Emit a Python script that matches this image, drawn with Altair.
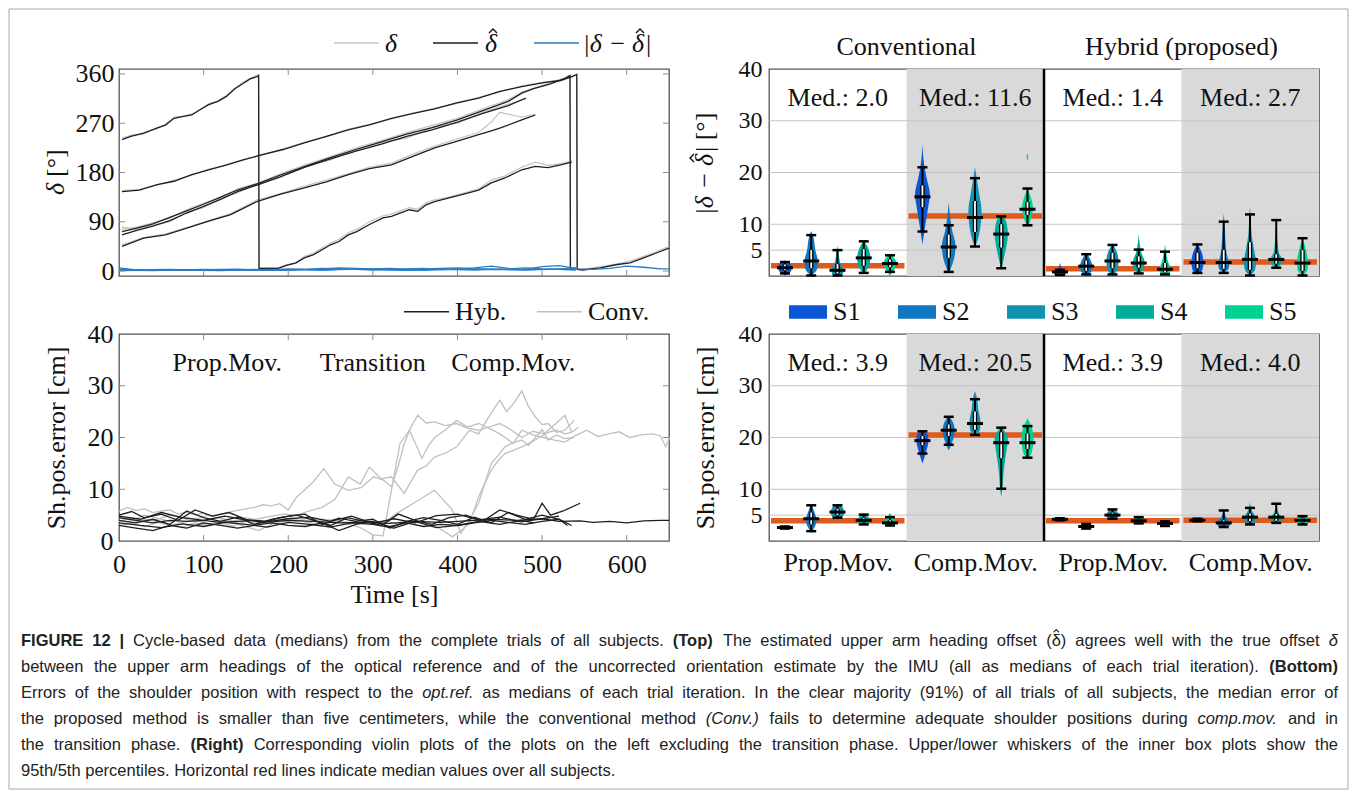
import json
import altair as alt
import pandas as pd

SERIF = "Liberation Serif, Times New Roman, serif"
SANS = "Liberation Sans, Arial, Helvetica, sans-serif"
FS = 26
W, H = 550, 207

# ---------------- top left: heading offset per trial ----------------
kinds = ["δ", "δ̂", "|δ − δ̂|"]
kind_colors = ["#c6c6c6", "#1e1e1e", "#2a7cc4"]

tA = [3.6, 14, 29, 45, 55, 65, 75, 86, 96, 106, 117, 127, 137, 147, 155, 163, 165, 165.5, 168, 188, 199, 209, 219, 230, 240, 250, 260, 271, 281, 296, 312, 322, 332, 343, 353, 363, 373, 389, 404, 425, 440, 456, 476, 492, 507, 522, 535]
hatA = [240, 246, 252, 261, 267, 279, 282, 285, 295, 304, 310, 319, 333, 343, 351, 355, 357, 4, 5, 5, 11, 15, 24, 30, 39, 48, 54, 66, 72, 85, 97, 100, 106, 112, 109, 121, 127, 133, 139, 148, 161, 170, 185, 191, 189, 194, 199]
trueA = [243, 248, 250, 262, 266, 281, 283, 287, 294, 306, 311, 321, 334, 345, 352, 358, 359, 5, 6, 6, 12, 14, 27, 33, 42, 51, 58, 70, 76, 90, 101, 104, 110, 116, 113, 125, 130, 135, 141, 150, 166, 174, 190, 199, 193, 196, 201]

tC = [3.6, 24, 45, 65, 86, 106, 127, 147, 168, 194, 219, 245, 271, 296, 322, 348, 373, 399, 425, 450, 476, 502, 522, 535, 541, 541.5, 548, 569, 589, 604, 620, 635, 650]
hatC = [145, 148, 158, 164, 176, 185, 194, 203, 212, 222, 234, 246, 258, 267, 279, 288, 296, 307, 316, 328, 337, 344, 348, 355, 359, 3, 2, 6, 12, 15, 24, 33, 42]
trueC = [147, 149, 157, 166, 175, 186, 193, 204, 211, 223, 235, 245, 259, 268, 278, 289, 297, 306, 317, 327, 338, 345, 349, 354, 358, 3, 3, 8, 13, 18, 27, 35, 45]

tD = [3.6, 20, 40, 60, 80, 100, 120, 140, 165, 190, 220, 250, 280, 310, 340, 370, 400, 430, 460, 476, 490, 510, 527, 533, 533.5, 537]
hatD = [72, 78, 86, 98, 110, 122, 135, 148, 160, 175, 191, 207, 222, 236, 250, 262, 276, 293, 310, 325, 333, 342, 352, 357, 4, 3]
trueD = [76, 80, 88, 96, 112, 124, 134, 150, 161, 177, 194, 209, 225, 238, 253, 266, 279, 296, 313, 327, 334, 344, 353, 358, 5, 3]

tE = [3.6, 20, 40, 60, 80, 100, 120, 140, 165, 190, 220, 250, 280, 310, 340, 370, 400, 430, 460, 481]
hatE = [66, 74, 82, 92, 106, 118, 131, 145, 158, 172, 190, 205, 219, 232, 246, 258, 272, 288, 302, 316]
trueE = [80, 76, 84, 90, 108, 116, 133, 143, 160, 170, 192, 203, 222, 235, 243, 262, 270, 290, 305, 314]

tF = [3.6, 29, 55, 81, 106, 132, 163, 190, 219, 245, 271, 296, 322, 348, 373, 399, 425, 440, 450, 476, 492]
hatF = [45, 60, 66, 79, 91, 103, 127, 140, 152, 163, 176, 187, 194, 210, 225, 237, 249, 256, 261, 276, 285]
trueF = [48, 61, 68, 80, 92, 105, 130, 141, 155, 166, 178, 190, 197, 214, 228, 241, 253, 272, 290, 281, 286]

errT1 = [0, 20, 40, 60, 80, 100, 120, 140, 160, 180, 200, 220, 240, 260, 280, 300, 320, 340, 360, 380, 400, 420, 440, 460, 480, 500, 520, 540]
err1 = [2, 1.5, 1, 2, 2.5, 1.5, 1, 2, 3, 2, 1.5, 2.5, 2, 3, 4, 3, 2, 1.5, 2, 3, 2.5, 2, 3, 2.5, 2, 3, 4, 6]
err2 = [6, 2, 2, 1.5, 2, 3, 2.5, 2, 1.5, 2, 4, 3, 5, 4, 3, 2, 3, 4, 5, 3, 4, 6, 9, 5, 3, 8, 10, 5]
err3 = [3, 2, 2.5, 3, 2, 2, 3, 3.5, 2, 3, 2.5, 3, 4, 6, 5, 4, 5, 3, 4, 5, 6, 4, 3, 4, 6, 4, 3, 2]
errT4 = [0, 30, 60, 90, 120, 150, 180, 210, 240, 270, 300, 330, 360, 390, 420, 450, 480, 510, 540, 560, 580, 600, 620, 640, 650]
err4 = [1, 1.5, 2, 1.5, 2, 2.5, 2, 3, 2, 3, 4, 3, 2, 3, 4, 3, 2.5, 3, 4, 3, 5, 9, 7, 4, 4]

# ---------------- bottom left: shoulder position error ----------------
methods = ["Hyb.", "Conv."]
method_colors = ["#1e1e1e", "#c0c0c0"]

g1t = [0, 10, 20, 30, 40, 50, 60, 70, 80, 90, 100, 110, 120, 130, 140, 150, 160, 170, 180, 190, 200, 210, 219, 230, 242, 255, 271, 286, 301, 312, 322, 330, 337, 345, 353, 363, 373, 386, 399, 412, 425, 437, 450, 463, 476, 489, 502, 515, 527, 535, 543]
g1v = [5.8, 6.5, 5.9, 6.2, 5.5, 5.8, 6.0, 5.2, 5.6, 5.0, 5.4, 4.8, 5.2, 5.6, 5.9, 6.2, 6.5, 7.0, 6.8, 7.2, 6.0, 8.5, 9.8, 11.5, 14.0, 11.0, 9.8, 10.3, 12.4, 11.8, 10.5, 14.5, 18.8, 22.0, 24.3, 22.8, 23.0, 22.3, 22.7, 21.8, 21.4, 22.0, 22.7, 21.5, 20.0, 21.2, 20.7, 22.5, 24.3, 21.0, 22.0]
g2t = [0, 15, 30, 45, 60, 75, 90, 105, 120, 135, 150, 165, 180, 195, 210, 225, 240, 255, 270, 285, 300, 312, 322, 332, 343, 350, 358, 366, 373, 386, 399, 412, 425, 437, 450, 458, 466, 476, 489, 502, 515, 527, 540, 553, 566, 579, 591, 604, 617, 630, 640, 646, 651]
g2v = [4.0, 3.5, 4.2, 3.8, 3.0, 3.6, 4.1, 3.2, 3.9, 3.5, 2.8, 2.0, 3.2, 3.8, 4.1, 3.5, 3.0, 3.8, 3.3, 2.6, 1.2, 1.0, 9.8, 18.8, 21.4, 19.0, 16.0, 18.5, 20.0, 21.5, 23.3, 22.0, 22.7, 21.8, 20.7, 19.8, 18.8, 21.4, 20.5, 20.0, 19.5, 19.1, 20.4, 21.4, 20.2, 20.7, 21.1, 20.0, 20.5, 20.7, 20.3, 18.2, 20.0]
g3t = [0, 15, 30, 45, 60, 75, 90, 105, 120, 135, 150, 165, 180, 195, 210, 225, 240, 255, 271, 285, 296, 310, 322, 337, 353, 363, 373, 386, 399, 414, 425, 437, 450, 458, 466, 476, 484, 492, 500, 507, 517, 527, 538]
g3v = [3.0, 3.4, 2.8, 3.6, 3.2, 2.7, 3.5, 3.0, 3.4, 2.9, 3.8, 4.3, 4.8, 5.2, 5.0, 5.8, 6.5, 8.0, 12.4, 11.0, 14.3, 12.0, 12.4, 9.2, 13.7, 14.5, 16.2, 17.0, 18.2, 21.4, 20.7, 24.0, 27.2, 25.0, 26.5, 29.0, 26.0, 24.0, 22.5, 22.7, 21.0, 21.4, 23.3]
g4t = [0, 15, 30, 45, 60, 75, 90, 105, 120, 135, 150, 165, 180, 195, 210, 225, 240, 255, 270, 285, 300, 312, 325, 337, 348, 360, 373, 383, 394, 404, 414, 425, 432, 440, 448, 456, 466, 476, 484, 492, 500, 507, 517, 527, 538]
g4v = [4.5, 4.0, 5.0, 4.4, 3.8, 4.6, 4.2, 5.0, 4.3, 3.9, 4.5, 4.0, 3.6, 4.2, 3.8, 4.5, 3.9, 4.2, 3.6, 4.0, 3.8, 3.4, 5.0, 6.2, 7.3, 8.5, 9.8, 8.0, 6.0, 1.5, 4.0, 7.3, 11.0, 15.0, 16.5, 18.2, 19.0, 19.5, 18.5, 20.0, 21.5, 19.5, 20.5, 19.8, 20.0]
g5t = [0, 15, 30, 45, 60, 75, 90, 105, 120, 135, 150, 165, 180, 195, 210, 225, 240, 255, 270, 285, 300, 315, 330, 345, 360, 375, 385, 394, 404, 414, 425, 432, 440, 448, 456, 466, 476, 486, 497, 507, 517, 527, 535]
g5v = [3.8, 4.5, 3.9, 4.2, 5.0, 4.4, 3.7, 4.1, 4.6, 3.5, 4.0, 3.3, 3.8, 4.4, 4.0, 3.6, 4.2, 3.9, 3.4, 4.1, 3.6, 3.9, 3.3, 3.7, 3.5, 2.8, 1.8, 0.8, 2.0, 3.4, 8.5, 11.0, 13.7, 15.5, 16.9, 17.5, 18.2, 19.0, 20.0, 21.0, 21.4, 20.7, 21.0]

h1t = [0, 20, 40, 60, 80, 100, 120, 140, 160, 180, 200, 230, 260, 290, 320, 350, 380, 410, 440, 470, 500, 520, 545, 560, 580, 600, 620, 640, 650]
h1v = [4.5, 4.0, 3.5, 4.0, 3.8, 4.0, 3.6, 3.8, 4.0, 3.7, 4.0, 3.8, 3.5, 3.6, 3.4, 3.8, 3.6, 3.9, 4.2, 4.0, 4.3, 3.8, 3.9, 3.6, 3.8, 3.5, 3.9, 4.0, 4.0]
h2t = [0, 15, 30, 50, 70, 90, 110, 130, 150, 170, 190, 210, 230, 250, 270, 290, 310, 330, 350, 370, 390, 410, 430, 450, 470, 490, 500, 510, 525, 545]
h2v = [5.0, 5.7, 4.5, 5.2, 4.0, 6.0, 4.8, 5.5, 4.2, 3.5, 4.5, 5.0, 4.0, 3.0, 4.5, 3.8, 3.0, 5.2, 4.0, 3.2, 4.5, 5.0, 3.8, 6.0, 5.0, 4.2, 7.3, 5.0, 5.8, 7.3]
h3t = [0, 20, 40, 60, 80, 100, 120, 140, 160, 180, 200, 220, 240, 260, 280, 300, 320, 340, 360, 380, 400, 420, 440, 460, 480, 500, 520, 535]
h3v = [3.0, 2.5, 2.0, 3.0, 2.5, 3.5, 3.0, 2.5, 3.0, 3.5, 3.0, 2.8, 3.5, 2.0, 3.2, 3.8, 2.8, 3.5, 2.8, 3.2, 3.0, 3.5, 4.0, 3.6, 3.2, 3.8, 4.2, 3.0]
h4t = [0, 20, 40, 60, 80, 100, 120, 140, 160, 180, 200, 220, 240, 260, 280, 300, 320, 340, 360, 380, 400, 420, 440, 460, 480, 500, 520, 530]
h4v = [4.0, 3.5, 4.2, 3.2, 5.8, 4.5, 3.8, 4.6, 3.2, 4.2, 4.8, 5.2, 3.2, 4.4, 3.8, 4.2, 2.5, 3.8, 4.5, 4.0, 3.2, 4.6, 3.5, 5.5, 4.2, 5.0, 4.2, 3.0]
h5t = [0, 25, 50, 75, 100, 125, 150, 175, 200, 225, 250, 275, 300, 325, 350, 375, 400, 425, 450, 475, 490]
h5v = [3.5, 3.0, 2.6, 3.3, 2.8, 3.6, 3.2, 2.7, 3.6, 3.2, 2.7, 3.5, 3.2, 2.5, 3.8, 2.6, 3.0, 3.8, 3.2, 4.0, 3.5]
h6t = [0, 25, 50, 75, 100, 125, 150, 175, 200, 225, 250, 275, 300, 325, 350, 375, 400, 425, 450, 475, 500, 520]
h6v = [4.8, 4.2, 5.5, 4.5, 4.0, 4.8, 4.1, 3.7, 4.3, 4.6, 3.8, 4.8, 3.4, 4.3, 3.5, 4.9, 5.2, 4.1, 4.6, 3.7, 4.3, 4.8]

phase_names = ["Prop.Mov.", "Transition", "Comp.Mov."]
phase_t = [128, 300, 466]
phase_y = [34.4, 34.4, 34.4]

# ---------------- right: violins ----------------
subjects = ["S1", "S2", "S3", "S4", "S5"]
subj_colors = ["#0b56d2", "#0f76c2", "#0f93b0", "#00ac9c", "#00d293"]
section_labels = ["Prop.Mov.", "Comp.Mov.", "Prop.Mov.", "Comp.Mov."]
method_heads = ["Conventional", "Hybrid (proposed)"]

err_meds = [2.0, 11.6, 1.4, 2.7]
pos_meds = [3.9, 20.5, 3.9, 4.0]

# violin outlines: (value, half width) per section and subject
err_profiles = [
    [[(0.1, 0), (0.8, 0.20), (1.6, 0.25), (2.4, 0.19), (3.0, 0)],
     [(0.0, 0), (1.5, 0.22), (2.9, 0.24), (5.0, 0.15), (7.5, 0.08), (8.7, 0)],
     [(0.0, 0), (0.5, 0.20), (1.1, 0.22), (2.5, 0.10), (4.5, 0.04), (5.9, 0)],
     [(0.3, 0), (1.5, 0.15), (3.5, 0.24), (5.5, 0.15), (6.8, 0)],
     [(0.0, 0), (1.2, 0.15), (2.4, 0.24), (3.5, 0.15), (4.2, 0)]],
    [[(6.1, 0), (9.0, 0.08), (13.0, 0.20), (15.8, 0.27), (19.0, 0.15), (22.0, 0.05), (25.4, 0)],
     [(0.6, 0), (2.5, 0.15), (5.8, 0.25), (9.0, 0.12), (12.0, 0.04), (14.2, 0)],
     [(5.5, 0), (8.0, 0.15), (12.6, 0.24), (16.0, 0.15), (19.0, 0.06), (21.0, 0)],
     [(1.3, 0), (4.0, 0.12), (8.1, 0.24), (10.5, 0.18), (11.8, 0)],
     [(9.4, 0), (11.0, 0.12), (13.2, 0.20), (15.5, 0.10), (16.8, 0)]],
    [[(0.0, 0), (0.4, 0.22), (0.9, 0.20), (1.6, 0.06), (2.6, 0)],
     [(0.0, 0), (1.0, 0.20), (1.9, 0.22), (3.2, 0.15), (4.5, 0)],
     [(0.0, 0), (1.5, 0.20), (2.9, 0.22), (4.8, 0.15), (6.3, 0)],
     [(0.3, 0), (1.5, 0.18), (2.6, 0.22), (4.5, 0.10), (6.5, 0.03), (8.2, 0)],
     [(0.0, 0), (0.6, 0.18), (1.3, 0.20), (3.0, 0.10), (4.8, 0.04), (6.1, 0)]],
    [[(0.3, 0), (1.2, 0.18), (2.6, 0.22), (4.5, 0.16), (6.3, 0)],
     [(0.6, 0), (1.5, 0.18), (2.3, 0.20), (4.0, 0.12), (7.0, 0.06), (10.0, 0.03), (12.1, 0)],
     [(0.0, 0), (1.5, 0.20), (2.9, 0.22), (5.0, 0.15), (8.0, 0.06), (11.0, 0.03), (13.4, 0)],
     [(1.4, 0), (2.5, 0.20), (3.0, 0.22), (4.5, 0.10), (7.0, 0.04), (11.0, 0)],
     [(0.0, 0), (1.2, 0.18), (2.6, 0.20), (4.5, 0.15), (7.4, 0)]],
]
err_extra = [(1, 4, [(22.3, 0), (23.0, 0.03), (23.7, 0)])]
# inner box: (p5, q1, median, q3, p95)
err_stats = [
    [(0.5, 1.1, 1.6, 2.2, 2.7), (0.1, 1.5, 2.9, 5.0, 7.9), (0.1, 0.5, 1.1, 2.3, 5.0), (0.6, 2.0, 3.5, 5.2, 6.7), (0.8, 1.7, 2.4, 3.2, 4.0)],
    [(8.6, 13.3, 15.3, 17.5, 21.0), (0.8, 3.5, 5.6, 8.0, 9.8), (5.7, 8.5, 11.3, 14.5, 18.9), (1.5, 5.5, 8.1, 10.0, 11.5), (9.8, 11.8, 12.9, 14.3, 16.9)],
    [(0.2, 0.5, 0.8, 1.0, 1.2), (0.3, 1.0, 1.9, 3.0, 4.2), (0.3, 1.5, 2.9, 4.5, 6.0), (0.5, 1.6, 2.5, 3.8, 5.1), (0.3, 0.7, 1.3, 2.5, 4.7)],
    [(0.6, 1.5, 2.6, 4.5, 6.1), (0.6, 1.4, 2.6, 5.0, 10.5), (0.1, 1.2, 3.2, 6.5, 11.9), (1.6, 2.4, 3.2, 4.2, 10.8), (0.1, 1.0, 2.5, 5.0, 7.3)],
]

pos_profiles = [
    [[(2.3, 0), (2.6, 0.20), (3.0, 0)],
     [(1.6, 0), (3.0, 0.15), (4.0, 0.20), (5.5, 0.12), (7.2, 0)],
     [(4.1, 0), (5.0, 0.22), (5.6, 0.24), (6.4, 0.20), (7.2, 0)],
     [(3.0, 0), (3.6, 0.20), (4.0, 0.22), (4.6, 0.18), (5.3, 0)],
     [(2.7, 0), (3.3, 0.20), (3.7, 0.22), (4.5, 0.12), (5.4, 0)]],
    [[(15.0, 0), (17.0, 0.12), (19.5, 0.22), (20.5, 0.20), (21.2, 0)],
     [(17.5, 0), (19.0, 0.12), (21.4, 0.22), (23.0, 0.15), (24.2, 0)],
     [(20.3, 0), (21.5, 0.18), (23.0, 0.20), (25.5, 0.12), (27.5, 0.08), (29.0, 0)],
     [(8.5, 0), (10.0, 0.04), (13.0, 0.08), (16.0, 0.15), (19.8, 0.24), (22.1, 0)],
     [(15.9, 0), (17.0, 0.15), (19.8, 0.22), (22.0, 0.15), (23.7, 0)]],
    [[(3.9, 0), (4.2, 0.20), (4.5, 0)],
     [(2.3, 0), (2.8, 0.20), (3.4, 0)],
     [(4.0, 0), (4.6, 0.20), (5.0, 0.22), (5.6, 0.18), (6.3, 0)],
     [(3.2, 0), (3.6, 0.18), (3.9, 0.20), (4.3, 0.15), (4.8, 0)],
     [(2.8, 0), (3.4, 0.18), (3.9, 0)]],
    [[(3.7, 0), (4.0, 0.20), (4.5, 0)],
     [(2.5, 0), (3.0, 0.22), (3.5, 0.24), (4.5, 0.10), (5.9, 0)],
     [(3.0, 0), (3.6, 0.18), (4.5, 0.20), (6.0, 0.06), (7.5, 0)],
     [(3.4, 0), (3.8, 0.18), (4.3, 0.20), (5.5, 0.08), (7.2, 0)],
     [(3.0, 0), (3.5, 0.20), (4.0, 0.22), (4.5, 0.15), (5.0, 0)]],
]
pos_extra = []
pos_stats = [
    [(2.4, 2.5, 2.6, 2.7, 2.8), (1.9, 3.2, 4.3, 5.5, 6.9), (4.5, 5.0, 5.6, 6.2, 6.9), (3.2, 3.7, 4.0, 4.5, 5.1), (3.0, 3.3, 3.5, 4.0, 4.6)],
    [(16.9, 18.5, 19.4, 20.3, 21.2), (18.6, 20.3, 21.4, 22.5, 24.0), (20.5, 21.5, 22.7, 25.0, 27.4), (10.1, 16.0, 19.0, 21.0, 21.9), (16.1, 17.8, 19.0, 20.8, 22.2)],
    [(4.0, 4.1, 4.2, 4.3, 4.4), (2.4, 2.6, 2.8, 3.0, 3.3), (4.3, 4.7, 5.0, 5.5, 6.1), (3.4, 3.7, 3.9, 4.2, 4.6), (2.9, 3.2, 3.4, 3.6, 3.8)],
    [(3.8, 3.9, 4.0, 4.1, 4.3), (2.7, 3.2, 3.5, 4.0, 5.9), (3.2, 3.8, 4.6, 5.3, 6.4), (3.5, 3.9, 4.6, 5.2, 7.2), (3.2, 3.6, 4.0, 4.4, 4.8)],
]

caption_lines = [
    "FIGURE 12 | Cycle-based data (medians) from the complete trials of all subjects. (Top) The estimated upper arm heading offset (δ̂) agrees well with the true offset δ",
    "between the upper arm headings of the optical reference and of the uncorrected orientation estimate by the IMU (all as medians of each trial iteration). (Bottom)",
    "Errors of the shoulder position with respect to the opt.ref. as medians of each trial iteration. In the clear majority (91%) of all trials of all subjects, the median error of",
    "the proposed method is smaller than five centimeters, while the conventional method (Conv.) fails to determine adequate shoulder positions during comp.mov. and in",
    "the transition phase. (Right) Corresponding violin plots of the plots on the left excluding the transition phase. Upper/lower whiskers of the inner box plots show the",
    "95th/5th percentiles. Horizontal red lines indicate median values over all subjects.",
]
bold_words = {"FIGURE", "12", "|", "(Top)", "(Bottom)", "(Right)"}
italic_words = {"opt.ref.", "(Conv.)", "comp.mov.", "δ"}

# ====================================================================
TICK = "#8c8c8c"
RED = "#df5a1f"
CARET = "M-1,0.5L0,-0.5L1,0.5"      # the circumflex accent drawn over δ
ONE = pd.DataFrame({"o": [0]})


def ptext(x, y, s, **kw):
    """text placed in pixels relative to a panel's plot area"""
    return alt.Chart(ONE).mark_text(**kw).encode(x=alt.value(x), y=alt.value(y), text=alt.value(s))


def caret(x, y, size=64, angle=0, width=1.4, color="#111"):
    return alt.Chart(ONE).mark_point(shape=CARET, filled=False, size=size, angle=angle, strokeWidth=width,
                                     color=color, opacity=1).encode(x=alt.value(x), y=alt.value(y))


def inner_ticks(xvals, yvals, xs, ys, xax, yax):
    tx = alt.Chart(pd.DataFrame({"v": xvals}))
    ty = alt.Chart(pd.DataFrame({"v": yvals}))
    X = alt.X("v:Q", scale=xs, axis=xax)
    Y = alt.Y("v:Q", scale=ys, axis=yax)
    m = dict(color=TICK, strokeWidth=1)
    return [
        tx.mark_rule(**m).encode(x=X, y=alt.value(H), y2=alt.value(H - 6)),
        tx.mark_rule(**m).encode(x=X, y=alt.value(0), y2=alt.value(6)),
        ty.mark_rule(**m).encode(y=Y, x=alt.value(0), x2=alt.value(6)),
        ty.mark_rule(**m).encode(y=Y, x=alt.value(W), x2=alt.value(W - 6)),
    ]


# ---------- top left ----------
rows = []
trials = {"A": (tA, hatA, trueA), "C": (tC, hatC, trueC), "D": (tD, hatD, trueD),
          "E": (tE, hatE, trueE), "F": (tF, hatF, trueF)}
for name, (ts, hs, ds) in trials.items():
    for t, h, d in zip(ts, hs, ds):
        rows.append({"trial": name, "t": t, "kind": kinds[0], "v": d})
        rows.append({"trial": name, "t": t, "kind": kinds[1], "v": h})
for i, (ts, es) in enumerate([(errT1, err1), (errT1, err2), (errT1, err3), (errT4, err4)]):
    for t, e in zip(ts, es):
        rows.append({"trial": "e%d" % i, "t": t, "kind": kinds[2], "v": e})
df_tl = pd.DataFrame(rows)

xs_time = alt.Scale(domain=[0, 650], nice=False, zero=False)
ys_tl = alt.Scale(domain=[-9, 369], nice=False, zero=False)
yax_tl = alt.Axis(values=[0, 90, 180, 270, 360], title=None, labelPadding=5)
col_tl = alt.Color("kind:N", scale=alt.Scale(domain=kinds, range=kind_colors), legend=None)


def tl_layer(kind):
    return alt.Chart(df_tl[df_tl["kind"] == kind]).mark_line(strokeWidth=1.3).encode(
        x=alt.X("t:Q", scale=xs_time, axis=None),
        y=alt.Y("v:Q", scale=ys_tl, axis=yax_tl),
        color=col_tl, detail="trial:N")


# legend of the top-left panel (line sample + label; accent drawn over δ)
LEG_Y = -26
leg_x0 = [215, 314, 415]
tl_legend = []
for x0, c in zip(leg_x0, kind_colors):
    tl_legend.append(alt.Chart(ONE).mark_rule(color=c, strokeWidth=1.5).encode(
        x=alt.value(x0), x2=alt.value(x0 + 45), y=alt.value(LEG_Y)))
lt = dict(font=SERIF, fontSize=FS, fontStyle="italic", color="#111", baseline="alphabetic")
tl_legend += [
    ptext(272, LEG_Y + 9, "δ", align="center", **lt),
    ptext(372, LEG_Y + 9, "δ", align="center", **lt),
    caret(374, LEG_Y - 12),
    ptext(507, LEG_Y + 9, "|δ −", align="right", **lt),
    ptext(519, LEG_Y + 9, "δ", align="center", **lt),
    caret(521, LEG_Y - 12),
    ptext(527, LEG_Y + 9, "|", align="left", font=SERIF, fontSize=FS, color="#111", baseline="alphabetic"),
]
# rotated y title: δ [°]
rt = dict(font=SERIF, fontSize=FS, color="#111", baseline="alphabetic", angle=270)
tl_title = [
    ptext(-55, 114, "δ", align="right", fontStyle="italic", **rt),
    ptext(-55, 108, "[°]", align="left", **rt),
]

TL = alt.layer(tl_layer(kinds[0]), tl_layer(kinds[1]), tl_layer(kinds[2]),
               *inner_ticks([100, 200, 300, 400, 500, 600], [0, 90, 180, 270, 360], xs_time, ys_tl, None, yax_tl),
               *tl_legend, *tl_title).properties(width=W, height=H)

# ---------- bottom left ----------
rows = []
for i, (ts, vs) in enumerate([(g1t, g1v), (g2t, g2v), (g3t, g3v), (g4t, g4v), (g5t, g5v)]):
    for t, v in zip(ts, vs):
        rows.append({"run": "g%d" % i, "t": t, "method": methods[1], "v": v})
for i, (ts, vs) in enumerate([(h1t, h1v), (h2t, h2v), (h3t, h3v), (h4t, h4v), (h5t, h5v), (h6t, h6v)]):
    for t, v in zip(ts, vs):
        rows.append({"run": "h%d" % i, "t": t, "method": methods[0], "v": v})
df_bl = pd.DataFrame(rows)
ys_pos = alt.Scale(domain=[0, 40], nice=False, zero=False)
xax_bl = alt.Axis(values=[0, 100, 200, 300, 400, 500, 600], title="Time [s]", labelPadding=10,
                  titleY=53, titleBaseline="middle")
yax_bl = alt.Axis(values=[0, 10, 20, 30, 40], title="Sh.pos.error [cm]", titleX=-63,
                  titleBaseline="middle", labelPadding=6)
leg_bl = alt.Legend(orient="none", legendX=284, legendY=-46, direction="horizontal", title=None,
                    symbolType="stroke", symbolSize=2025, symbolStrokeWidth=1.5,
                    labelFont=SERIF, labelFontSize=FS, labelColor="#111",
                    labelOffset=5, columnPadding=27)
col_bl = alt.Color("method:N", scale=alt.Scale(domain=methods, range=method_colors), legend=leg_bl)


def bl_layer(method):
    return alt.Chart(df_bl[df_bl["method"] == method]).mark_line(strokeWidth=1.3).encode(
        x=alt.X("t:Q", scale=xs_time, axis=xax_bl),
        y=alt.Y("v:Q", scale=ys_pos, axis=yax_bl),
        color=col_bl, detail="run:N")


df_phase = pd.DataFrame({"t": phase_t, "y": phase_y, "name": phase_names})
phase_txt = alt.Chart(df_phase).mark_text(font=SERIF, fontSize=FS, color="#111").encode(
    x=alt.X("t:Q", scale=xs_time, axis=xax_bl), y=alt.Y("y:Q", scale=ys_pos, axis=yax_bl), text="name:N")

BL = alt.layer(bl_layer(methods[1]), bl_layer(methods[0]), phase_txt,
               *inner_ticks([100, 200, 300, 400, 500, 600], [10, 20, 30], xs_time, ys_pos, xax_bl, yax_bl)
               ).properties(width=W, height=H)


# ---------- right: violin panels ----------
def violin_panel(profiles, stats, extras, meds, yax, xlabels, legend, heads, extra_layers):
    centers = [[5 * s + 0.58 + 0.955 * k for k in range(5)] for s in range(4)]
    vrows, brows, crows = [], [], []
    for s in range(4):
        for k in range(5):
            c = centers[s][k]
            for (y, w) in profiles[s][k]:
                vrows.append({"vid": "%d-%d" % (s, k), "subj": subjects[k], "y": y, "xl": c - w, "xr": c + w})
            p5, q1, md, q3, p95 = stats[s][k]
            brows.append({"xc": c, "p5": p5, "q1": q1, "med": md, "q3": q3, "p95": p95})
            crows.append({"xc": c, "v": p5})
            crows.append({"xc": c, "v": p95})
    for (s, k, prof) in extras:
        c = centers[s][k]
        for (y, w) in prof:
            vrows.append({"vid": "%d-%d-x" % (s, k), "subj": subjects[k], "y": y, "xl": c - w, "xr": c + w})
    df_v, df_b, df_c = pd.DataFrame(vrows), pd.DataFrame(brows), pd.DataFrame(crows)
    df_sec = pd.DataFrame({"s0": [5 * s for s in range(4)], "s1": [5 * s + 5 for s in range(4)],
                           "med": meds, "xm": [5 * s + 2.5 for s in range(4)], "ym": [34.3] * 4,
                           "label": ["Med.: %.1f" % m for m in meds]})
    df_shade = df_sec.iloc[[1, 3]]

    xs = alt.Scale(domain=[0, 20], nice=False, zero=False)
    ys = alt.Scale(domain=[0, 40], nice=False, zero=False)
    if xlabels:
        xax = alt.Axis(values=[2.5, 7.5, 12.5, 17.5], title=None, labelPadding=8,
                       labelExpr=json.dumps(section_labels) + "[floor(datum.value / 5)]")
    else:
        xax = None

    def X(f, **kw):
        return alt.X(f + ":Q", scale=xs, axis=xax, **kw)

    def Y(f):
        return alt.Y(f + ":Q", scale=ys, axis=yax)

    shade = alt.Chart(df_shade).mark_rect(color="#d9d9d9").encode(
        x=X("s0"), x2="s1:Q", y=alt.value(0), y2=alt.value(H))
    grid = alt.Chart(pd.DataFrame({"g": [5, 10, 20, 30]})).mark_rule(color="#c4c4c4", strokeWidth=1).encode(
        y=Y("g"), x=alt.value(0), x2=alt.value(W))
    red = alt.Chart(df_sec).mark_rule(color=RED, strokeWidth=5.5, xOffset=2, x2Offset=-2).encode(
        x=X("s0"), x2="s1:Q", y=Y("med"))
    vio = alt.Chart(df_v).mark_area(orient="horizontal", interpolate="monotone").encode(
        y=Y("y"), x=X("xl", stack=False), x2="xr:Q",
        color=alt.Color("subj:N", scale=alt.Scale(domain=subjects, range=subj_colors), legend=legend),
        detail="vid:N")
    whisk = alt.Chart(df_b).mark_rule(color="black", strokeWidth=2).encode(x=X("xc"), y=Y("p5"), y2="p95:Q")
    boxb = alt.Chart(df_b).mark_rule(color="black", strokeWidth=4.5).encode(x=X("xc"), y=Y("q1"), y2="q3:Q")
    boxw = alt.Chart(df_b).mark_rule(color="white", strokeWidth=1.8).encode(x=X("xc"), y=Y("q1"), y2="q3:Q")
    caps = alt.Chart(df_c).mark_rule(color="black", strokeWidth=2.5, xOffset=-5, x2Offset=5).encode(
        x=X("xc"), x2="xc:Q", y=Y("v"))
    medt = alt.Chart(df_b).mark_rule(color="black", strokeWidth=3, xOffset=-8, x2Offset=8).encode(
        x=X("xc"), x2="xc:Q", y=Y("med"))
    div = alt.Chart(pd.DataFrame({"d": [10]})).mark_rule(color="black", strokeWidth=2.5).encode(
        x=X("d"), y=alt.value(0), y2=alt.value(H))
    medtxt = alt.Chart(df_sec).mark_text(font=SERIF, fontSize=FS, color="#111").encode(
        x=X("xm"), y=Y("ym"), text="label:N")
    layers = [shade, grid, red, vio, whisk, boxb, boxw, caps, medt, div, medtxt]
    if heads:
        df_h = pd.DataFrame({"xh": [5, 15], "head": heads})
        layers.append(alt.Chart(df_h).mark_text(font=SERIF, fontSize=FS, color="#111", baseline="middle").encode(
            x=X("xh"), y=alt.value(-22), text="head:N"))
    layers += extra_layers
    return alt.layer(*layers).properties(width=W, height=H)


leg_s = alt.Legend(orient="none", legendX=20, legendY=-41, direction="horizontal", title=None,
                   symbolType="M-1,-0.35L1,-0.35L1,0.35L-1,0.35Z", symbolSize=1444, symbolStrokeWidth=0,
                   symbolOpacity=1, labelFont=SERIF, labelFontSize=FS, labelColor="#111",
                   labelOffset=6, columnPadding=37)

yax_tr = alt.Axis(values=[5, 10, 20, 30, 40], title=None, labelPadding=7, labelFontSize=24)
yax_br = alt.Axis(values=[5, 10, 20, 30, 40], title="Sh.pos.error [cm]", titleX=-64, titleBaseline="middle",
                  labelPadding=7, labelFontSize=24)

# rotated y title of the top-right panel: |δ − δ̂| [°]
TY_X, TY_C = -56, 91
tr_title = [
    ptext(TY_X, TY_C + 12, "|δ −", align="right", fontStyle="italic", **rt),
    ptext(TY_X, TY_C, "δ", align="center", fontStyle="italic", **rt),
    caret(TY_X - 21, TY_C - 2, angle=270),
    ptext(TY_X, TY_C - 8, "| [°]", align="left", **rt),
]

TR = violin_panel(err_profiles, err_stats, err_extra, err_meds, yax_tr, False, None, method_heads, tr_title)
BR = violin_panel(pos_profiles, pos_stats, pos_extra, pos_meds, yax_br, True, leg_s, None, [])

# ---------- caption ----------
_reg = {" ": 278, "(": 333, ")": 333, ",": 278, "-": 333, ".": 278, "/": 278, ":": 278, "%": 889, "|": 260,
        "δ": 556, "\u0302": 0}
for ch in "0123456789":
    _reg[ch] = 556
_reg.update(dict(zip("ABCDEFGHIJKLMNOPQRSTUVWXYZ", [667, 667, 722, 722, 667, 611, 778, 722, 278, 500, 667, 556, 833,
                                                  722, 778, 667, 778, 722, 667, 611, 722, 667, 944, 667, 667, 611])))
_reg.update(dict(zip("abcdefghijklmnopqrstuvwxyz", [556, 556, 500, 556, 556, 278, 556, 556, 222, 222, 500, 222, 833,
                                                  556, 556, 556, 556, 333, 500, 278, 556, 500, 722, 500, 500, 500])))
_bold = dict(_reg)
_bold.update(dict(zip("ABCDEFGHIJKLMNOPQRSTUVWXYZ", [722, 722, 722, 722, 667, 611, 778, 722, 278, 556, 722, 611, 833,
                                                   722, 778, 667, 778, 722, 667, 611, 722, 667, 944, 667, 667, 611])))
_bold.update(dict(zip("abcdefghijklmnopqrstuvwxyz", [556, 611, 556, 611, 556, 333, 611, 611, 278, 278, 556, 278, 889,
                                                   611, 611, 611, 611, 389, 556, 333, 611, 556, 778, 556, 556, 500])))
_bold["|"] = 280


def word_em(wd, bold):
    tab = _bold if bold else _reg
    return sum(tab.get(ch, 556) for ch in wd) / 1000.0


CAP_W = 1317
CAP_X0 = -98
CAP_Y0 = 42
CAP_DY = 26
nat = []
for line in caption_lines:
    ws = line.split(" ")
    nat.append(sum(word_em(w, w in bold_words) for w in ws) + 0.278 * (len(ws) - 1))
fs_cap = min(16.5, 0.985 * CAP_W / max(nat[:5]))
cap_rows = []
hat_pos = []
for li, line in enumerate(caption_lines):
    ws = line.split(" ")
    wid = [word_em(w, w in bold_words) * fs_cap for w in ws]
    if li < len(caption_lines) - 1:
        gap = (CAP_W - sum(wid)) / (len(ws) - 1)
    else:
        gap = 0.278 * fs_cap
    x = CAP_X0
    py = CAP_Y0 + li * CAP_DY
    for w, wd in zip(ws, wid):
        st = "b" if w in bold_words else ("i" if w in italic_words else "n")
        if "\u0302" in w:
            k = w.index("\u0302")
            hat_pos.append((x + (word_em(w[:k - 1], False) + 0.278) * fs_cap, py - 10))
        cap_rows.append({"word": w.replace("\u0302", ""), "px": x, "py": py, "style": st})
        x += wd + gap
df_cap = pd.DataFrame(cap_rows)


def cap_layer(style, **kw):
    return alt.Chart(df_cap[df_cap["style"] == style]).mark_text(
        align="left", baseline="middle", font=SANS, fontSize=fs_cap, color="#222", **kw).encode(
        x=alt.X("px:Q", scale=None, axis=None), y=alt.Y("py:Q", scale=None, axis=None), text="word:N")


cap_hats = [caret(hx, hy, size=30, width=1.1, color="#222") for (hx, hy) in hat_pos]

border = alt.Chart(ONE).mark_rect(filled=False, stroke="#a8a8a8", strokeWidth=1).encode(
    x=alt.value(-110), x2=alt.value(1229), y=alt.value(-590), y2=alt.value(190))

CAP = alt.layer(border, cap_layer("n"), cap_layer("b", fontWeight="bold"),
                cap_layer("i", fontStyle="italic"), *cap_hats).properties(
    width=W, height=20, view=alt.ViewBackground(strokeOpacity=0))

chart = alt.concat(TL, TR, BL, BR, CAP, columns=2, spacing={"row": 58, "column": 100}, bounds="flush").resolve_scale(
    x="independent", y="independent", color="independent").properties(padding=0).configure_view(
    stroke="#555555", strokeWidth=1.3).configure_axis(
    domain=False, ticks=False, grid=False, labelFont=SERIF, labelFontSize=FS, titleFont=SERIF, titleFontSize=FS,
    titleFontWeight="normal", labelColor="#111", titleColor="#111", labelFlush=False, labelOverlap=False)

chart.save("out.html", embed_options={"renderer": "svg", "actions": False})
